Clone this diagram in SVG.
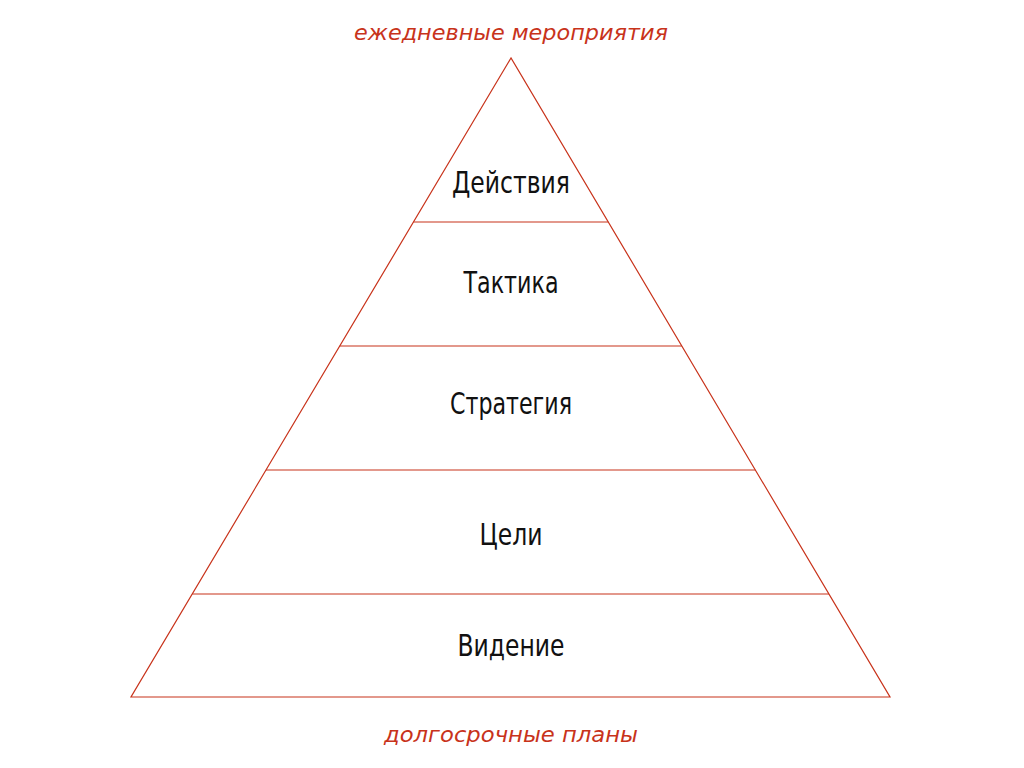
<svg xmlns="http://www.w3.org/2000/svg" width="1024" height="768" viewBox="0 0 1024 768">
<style>
.l{fill:none;stroke:#c8331b;stroke-width:1.2}
.t{font-family:"DejaVu Sans Condensed","Liberation Sans Narrow",sans-serif;font-size:30px;fill:#111;text-anchor:middle}
.r{font-family:"DejaVu Sans","Liberation Sans",sans-serif;font-style:italic;font-size:22px;fill:#c8331b;text-anchor:middle}
</style>
<rect width="1024" height="768" fill="#fff"/>
<g id="connectors">
<polygon class="l" points="511,58 131,697 890,697"/>
<line class="l" x1="413.5" y1="222" x2="608.3" y2="222"/>
<line class="l" x1="339.7" y1="346" x2="681.8" y2="346"/>
<line class="l" x1="266" y1="470" x2="755.4" y2="470"/>
<line class="l" x1="192.3" y1="594" x2="829" y2="594"/>
</g>
<g id="n1"><text class="t" x="511" y="193" textLength="118" lengthAdjust="spacingAndGlyphs">Действия</text></g>
<g id="n2"><text class="t" x="511" y="293" textLength="95" lengthAdjust="spacingAndGlyphs">Тактика</text></g>
<g id="n3"><text class="t" x="511" y="414" textLength="122" lengthAdjust="spacingAndGlyphs">Стратегия</text></g>
<g id="n4"><text class="t" x="511" y="545" textLength="63" lengthAdjust="spacingAndGlyphs">Цели</text></g>
<g id="n5"><text class="t" x="511" y="656" textLength="107" lengthAdjust="spacingAndGlyphs">Видение</text></g>
<g id="top"><text class="r" x="511" y="40" textLength="314" lengthAdjust="spacingAndGlyphs">ежедневные мероприятия</text></g>
<g id="bottom"><text class="r" x="511" y="742" textLength="254" lengthAdjust="spacingAndGlyphs">долгосрочные планы</text></g>
</svg>
